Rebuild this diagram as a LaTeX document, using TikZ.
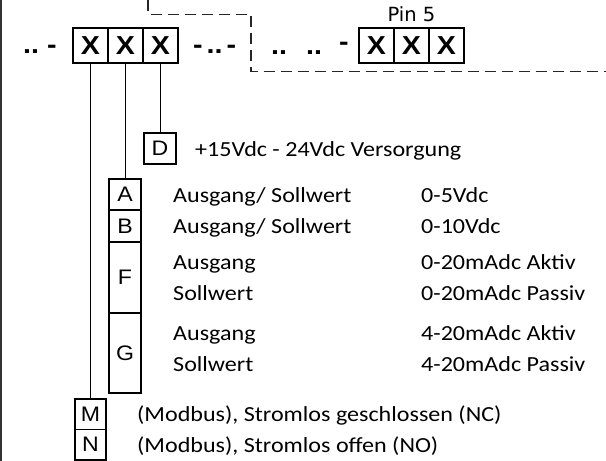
\documentclass[tikz,border=0pt]{standalone}
\usepackage{fontspec}
\setmainfont[FakeStretch=1.12]{Carlito}
\newfontfamily\boxfont[FakeStretch=1.1]{Liberation Sans}
\newfontfamily\pinfont{DejaVu Sans}
\usetikzlibrary{positioning}

\tikzset{
  xbox/.style={draw, line width=1.6pt, minimum width=35pt, minimum height=35pt,
    inner sep=0pt, outer sep=0pt, font=\boxfont\bfseries\fontsize{26}{28}\selectfont},
  codebox/.style={draw, line width=1.4pt, minimum width=32pt, inner sep=0pt,
    outer sep=0pt, font=\boxfont\fontsize{21}{24}\selectfont},
  txt/.style={anchor=base west, inner sep=0pt, font=\fontsize{21.5}{25}\selectfont},
  sepmark/.style={anchor=base west, inner sep=0pt, font=\boxfont\bfseries\fontsize{26}{28}\selectfont},
  wire/.style={line width=1.4pt},
  frame/.style={line width=1.1pt, dash pattern=on 11pt off 6pt, black!85}
}

\begin{document}
\begin{tikzpicture}[x=1pt, y=-1pt]
    \useasboundingbox (0,0) rectangle (606,461);

    % linker Rand
    \draw[line width=1.8pt, black!80] (0.9,0) -- (0.9,461);

    % Bestellschluessel links
    \node[sepmark] (s1) at (23,53) {..\ -};
    \node[xbox, anchor=north west] (x1) at (73,28) {X};
    \node[xbox, right=0pt of x1] (x2) {X};
    \node[xbox, right=0pt of x2] (x3) {X};
    \node[sepmark] (s2) at (193,53) {-\hspace{4pt}..\hspace{4pt}-};

    % gestrichelter Rahmen
    \draw[frame] (148,0) -- (148,14.5) -- (251,14.5) -- (251,71.5) -- (606,71.5);

    % Bestellschluessel rechts (Pin 5)
    \node[sepmark] (s3) at (271,54) {..};
    \node[sepmark] (s4) at (306,54) {..};
    \node[sepmark] (s5) at (339,50) {-};
    \node[xbox, anchor=north west] (p1) at (359,28) {X};
    \node[xbox, right=0pt of p1] (p2) {X};
    \node[xbox, right=0pt of p2] (p3) {X};
    \node[font=\pinfont\fontsize{19.5}{22}\selectfont, inner sep=0pt, above=6pt of p2] (pin) {Pin 5};

    % Versorgung D
    \node[codebox, minimum height=31pt, anchor=north west] (d) at (144,133) {D};
    \node[txt] (td) at (195,156) {+15Vdc - 24Vdc Versorgung};

    % Ausgang / Sollwert A, B, F, G
    \node[codebox, minimum height=31pt, anchor=north west] (a) at (109,179) {A};
    \node[codebox, minimum height=32pt, below=0pt of a] (b) {B};
    \node[codebox, minimum height=71pt, below=0pt of b] (f) {F};
    \node[codebox, minimum height=80pt, below=0pt of f] (g) {G};
    \foreach \y/\l/\r [count=\i] in {202/{Ausgang/ Sollwert}/0-5Vdc,
        233/{Ausgang/ Sollwert}/0-10Vdc, 269/Ausgang/0-20mAdc Aktiv,
        300/Sollwert/0-20mAdc Passiv, 340/Ausgang/4-20mAdc Aktiv,
        371/Sollwert/4-20mAdc Passiv}{
      \node[txt] (l\i) at (173,\y) {\l};
      \node[txt] (r\i) at (421,\y) {\r};
    }

    % Modbus M, N
    \node[codebox, minimum width=31pt, minimum height=30.5pt, anchor=north west] (m) at (75,399) {M};
    \node[codebox, minimum width=31pt, minimum height=30.5pt, below=0pt of m] (n) {N};
    \node[txt] (tm) at (137,421.5) {(Modbus), Stromlos geschlossen (NC)};
    \node[txt] (tn) at (137,452) {(Modbus), Stromlos offen (NO)};

    % Verbindungen
    \draw[wire] (x1.south) -- (m.north);
    \draw[wire] (x2.south) -- (x2.south |- a.north);
    \draw[wire] (x3.south) -- (x3.south |- d.north);
\end{tikzpicture}
\end{document}
